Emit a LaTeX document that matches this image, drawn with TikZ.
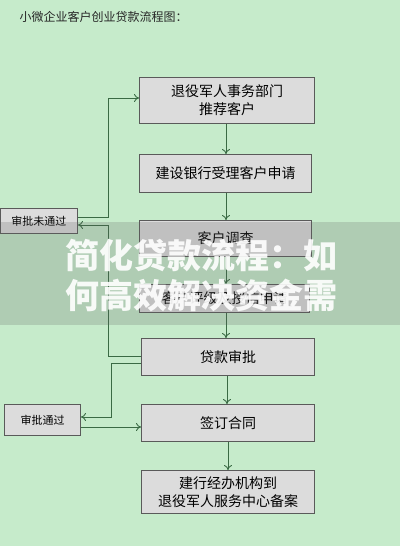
\documentclass[tikz,border=0pt]{standalone}
\usepackage{fontspec}
\setmainfont{Noto Sans CJK SC}
\newfontfamily\cjk{Noto Sans CJK SC}
\usetikzlibrary{arrows.meta,calc}
\definecolor{bg}{HTML}{C6EBCB}
\definecolor{boxfill}{HTML}{DCDCDC}
\definecolor{boxline}{HTML}{5A5A5A}
\definecolor{linec}{HTML}{3A6A44}
\tikzset{
  box/.style={draw=boxline, fill=boxfill, line width=1pt, inner sep=0pt, anchor=north west, align=center, font=\fontsize{14}{18}\selectfont},
  sidebox/.style={box, font=\fontsize{11}{13}\selectfont},
  conn/.style={draw=linec, line width=0.9pt, -{To[length=5pt,width=8pt]}},
}
\begin{document}
\begin{tikzpicture}[x=1pt,y=-1pt]
\fill[bg] (0,0) rectangle (400,546);
\useasboundingbox (0,0) rectangle (400,546);
\node[anchor=west, font=\fontsize{12}{14}\selectfont, text=black!85] (title) at (16,17) {小微企业客户创业贷款流程图：};

\node[box, minimum width=175pt, minimum height=46pt] (b1) at (139,77) {退役军人事务部门\\推荐客户};
\node[box, minimum width=172pt, minimum height=38pt] (b2) at (139,154) {建设银行受理客户申请};
\node[box, minimum width=172pt, minimum height=36pt] (b3) at (139,220) {客户调查};
\node[box, minimum width=170pt, minimum height=28pt] (b4) at (139,284) {客户评级及授信申请};
\node[box, minimum width=173pt, minimum height=37pt] (b5) at (141,338) {贷款审批};
\node[box, minimum width=173pt, minimum height=37pt] (b6) at (141,404) {签订合同};
\node[box, minimum width=173pt, minimum height=43pt] (b7) at (141,470) {建行经办机构到\\退役军人服务中心备案};
\node[sidebox, minimum width=77pt, minimum height=25pt] (n1) at (0,208) {审批未通过};
\node[sidebox, minimum width=76pt, minimum height=31pt] (n2) at (4,404) {审批通过};

\draw[conn] (b1.south -| 226,0) -- (b2.north -| 226,0);
\draw[conn] (b2.south -| 226,0) -- (b3.north -| 226,0);
\draw[conn] (b3.south -| 226,0) -- (b4.north -| 226,0);
\draw[conn] (b4.south -| 226,0) -- (b5.north -| 226,0);
\draw[conn] (b5.south -| 227,0) -- (b6.north -| 227,0);
\draw[conn] (b6.south -| 228,0) -- (b7.north -| 228,0);

\coordinate (l1) at (108,217);
\coordinate (l2) at (108,98);
\draw[conn] (n1.east |- l1) -- (l1) -- (l2) -- (b1.west |- l2);
\coordinate (m1) at (108,356);
\coordinate (m2) at (108,225);
\draw[conn] (b5.west |- m1) -- (m1) -- (m2) -- (n1.east |- m2);
\coordinate (k1) at (111,363);
\coordinate (k2) at (111,417);
\draw[conn] (b5.west |- k1) -- (k1) -- (k2) -- (n2.east |- k2);
\coordinate (k3) at (82,427);
\draw[conn] (n2.east |- k3) -- (b6.west |- k3);

\fill[gray!75!black, opacity=0.22] (0,222) rectangle (400,325);
\node[font=\fontsize{34}{40}\selectfont\bfseries, text=white, opacity=0.9, align=center] (banner) at (201,276) {简化贷款流程：如\\何高效解决资金需};
\end{tikzpicture}
\end{document}
